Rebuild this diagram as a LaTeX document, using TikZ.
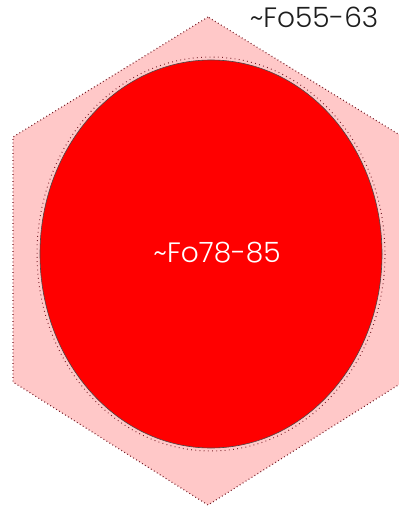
\documentclass[tikz,border=0pt]{standalone}
\usepackage{fontspec}
\setmainfont{Poppins}[UprightFont=* Light]
\usetikzlibrary{shapes.geometric}
\definecolor{olivRim}{RGB}{255,200,200}
\definecolor{olivCore}{RGB}{255,0,0}
\definecolor{olivSpeck}{RGB}{120,30,40}
\definecolor{olivLine}{RGB}{80,70,70}
\definecolor{olivText}{RGB}{30,30,30}

\begin{document}
\begin{tikzpicture}[x=1pt,y=-1pt,
  rim/.style={fill=olivRim,draw=olivSpeck,line width=1.1pt,dash pattern=on 0.9pt off 2.6pt},
  core/.style={ellipse,fill=olivCore,draw=olivLine,line width=0.6pt,minimum width=342pt,minimum height=388pt,inner sep=0pt},
  speck/.style={draw=olivSpeck,line width=1pt,dash pattern=on 0.8pt off 3.4pt},
  lbl/.style={font=\fontsize{28}{30}\selectfont,inner sep=0pt}
]
  \useasboundingbox (0,0) rectangle (398,510);
  \fill[white] (0,0) rectangle (398,510);
  % rim of the crystal
  \path[rim] (208,17) -- (13,137) -- (13,382) -- (208,505) -- (403,382) -- (403,137) -- cycle;
  % core
  \draw[speck] (211,254) ellipse [x radius=174, y radius=197];
  \node[core] (core) at (211,254) {};
  \node[lbl,text=white] (coreFo) at (217,253) {\textasciitilde Fo78-85};
  \node[lbl,text=olivText] (rimFo) at (314,17) {\textasciitilde Fo55-63};
\end{tikzpicture}
\end{document}
